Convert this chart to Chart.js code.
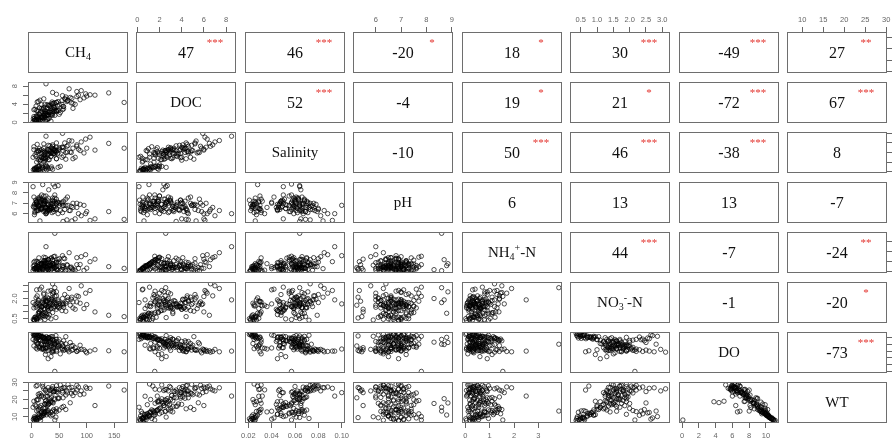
<!DOCTYPE html>
<html>
<head>
<meta charset="utf-8">
<script src="https://cdn.jsdelivr.net/npm/chart.js@4.4.0/dist/chart.umd.min.js"></script>
<style>
body{margin:0;background:#fff;width:894px;height:439px;overflow:hidden;position:relative;font-family:"Liberation Serif","Times New Roman",serif}
canvas{position:absolute}
.box{position:absolute;width:100px;height:41px;display:flex;align-items:center;justify-content:center;color:#111}
.diag{font-size:15px}
.num{font-size:16px}
.star{position:absolute;color:#e3332e;font-size:11px;line-height:1;transform:translateX(-50%)}
sub{font-size:10px;vertical-align:-3px;line-height:0}
sup{font-size:10px;vertical-align:6px;line-height:0}
</style>
</head>
<body>
<script>
// observations (one value per sample, same order in every array)
const ch4 = [12,8,35,22,5,18,44,25,14,3, 20,9,28,16,38,6,24,13,50,7,
  32,4,22,35,15,28,40,18,12,45, 30,9,25,38,8,38,45,12,30,22,
  55,33,18,62,27,4,36,22,70,17, 10,31,26,48,14,35,6,41,29,58,
  9,24,15,48,30,62,8,40,75,22, 52,12,33,85,14,45,28,56,95,38,
  42,20,65,100,25,47,10,88,36,58, 72,26,26,82,45,115,68,56,140,90,
  38,168,42,42,20,39,48,2.5,15,57, 64,73,106,79,30,35,25,18,22,
  6,10,17,23,9,30,13,27,40,55, 33,20,66,45,18,82,37,24,35,16,
  50,28,12,42,60,98,75,5,22,31];
const doc = [0.4,0.6,0.3,0.9,0.5,1.2,2.6,0.35,1.0,0.8, 0.45,1.4,3.2,0.25,1.6,0.55,1.1,0.75,1.8,0.2,
  0.9,1.3,1.5,2.2,0.5,1.8,2.8,1.1,0.7,2.5, 1.6,0.45,2.0,3.0,3.6,1.9,4.4,2.5,0.9,3.3,
  4.8,2.2,3.9,5.1,1.6,2.8,4.1,3.0,5.5,2.4, 1.2,3.7,2.0,4.6,3.2,1.8,2.9,4.3,0.7,3.5,
  2.6,4.0,4.9,2.6,3.8,5.6,1.4,4.2,3.1,5.2, 2.2,4.6,3.5,6.0,1.8,4.4,3.9,2.8,5.4,4.1,
  3.3,1.1,4.8,5.8,2.4,3.6,4.5,5.0,1.6,3.0, 4.3,2.0,8.5,6.8,6.2,6.0,7.4,5.9,6.5,7.0,
  6.6,4.4,2.56,1.57,1.05,2.4,2.7,0.15,0.6,3.5, 4.6,5.3,6.1,4.0,2.2,2.6,1.9,1.2,1.5,
  0.5,0.8,1.1,1.5,0.3,1.7,1.9,0.65,3.4,4.0, 3.8,2.9,4.9,2.5,3.1,5.7,4.5,2.7,3.2,2.1,
  3.9,2.4,1.3,3.0,5.2,6.3,4.2,0.9,2.0,2.3];
const sal = [0.024,0.026,0.052,0.063,0.025,0.030,0.061,0.027,0.068,0.024, 0.048,0.029,0.066,0.022,0.059,0.025,0.057,0.023,0.070,0.021,
  0.045,0.072,0.048,0.058,0.042,0.061,0.066,0.050,0.045,0.063, 0.055,0.040,0.059,0.068,0.052,0.025,0.047,0.064,0.026,0.069,
  0.050,0.062,0.058,0.046,0.031,0.066,0.070,0.048,0.061,0.051, 0.024,0.057,0.030,0.059,0.049,0.027,0.055,0.068,0.029,0.053,
  0.060,0.044,0.064,0.029,0.075,0.060,0.028,0.066,0.047,0.078, 0.031,0.062,0.074,0.067,0.032,0.080,0.049,0.071,0.059,0.076,
  0.065,0.025,0.061,0.069,0.046,0.057,0.077,0.064,0.030,0.070, 0.060,0.034,0.094,0.076,0.071,0.065,0.085,0.100,0.079,0.082,
  0.073,0.069,0.064,0.057,0.028,0.057,0.064,0.050,0.026,0.064, 0.073,0.084,0.092,0.050,0.045,0.052,0.048,0.036,0.040,
  0.023,0.064,0.026,0.060,0.022,0.066,0.031,0.024,0.058,0.071, 0.064,0.060,0.075,0.047,0.066,0.073,0.062,0.050,0.059,0.045,
  0.067,0.056,0.030,0.063,0.080,0.088,0.069,0.027,0.055,0.065];
const ph = [6.8,7.1,6.5,7.3,6.9,6.4,7.0,6.2,7.4,6.7, 6.6,7.2,6.3,6.9,7.5,6.1,7.0,6.5,6.8,7.3,
  6.4,6.6,7.2,6.9,7.6,6.6,7.0,7.8,6.3,7.4, 6.8,7.1,6.5,7.3,6.9,7.2,6.4,6.7,7.5,6.2,
  7.0,6.5,7.3,6.8,6.1,7.6,6.6,7.1,6.3,7.4, 6.9,6.4,7.7,6.0,6.7,7.0,6.2,7.2,6.5,6.8,
  7.1,6.6,6.8,7.1,6.4,7.4,6.6,6.2,7.0,6.9, 6.3,7.5,6.7,6.0,7.2,6.5,7.3,6.1,6.8,7.0,
  6.4,6.9,7.6,6.2,6.6,7.1,6.3,6.9,6.5,7.2, 6.7,6.0,6.0,6.6,7.0,5.5,6.3,6.8,6.2,5.8,
  6.4,5.45,8.6,7.8,8.8,8.85,8.7,8.6,5.3,5.25, 5.4,5.3,5.35,5.5,6.9,6.5,7.2,6.6,7.0,
  6.7,7.0,6.5,7.2,6.3,6.9,7.4,6.6,6.6,7.1, 6.3,7.3,6.8,6.9,6.5,7.0,6.1,7.2,6.7,6.4,
  7.0,6.2,6.8,7.5,6.4,6.0,6.6,5.9,7.7,8.3];
const nh4 = [0.25,0.38,0.15,0.62,0.30,0.85,0.47,0.12,0.72,0.55, 0.28,1.02,0.40,0.05,1.15,0.35,0.78,0.50,1.30,0.02,
  0.60,0.95,0.9,1.3,0.4,1.1,1.5,0.7,0.5,0.2, 1.2,0.3,1.4,0.8,0.45,0.60,0.30,0.85,0.20,1.10,
  0.55,0.38,0.72,0.15,0.95,0.28,1.40,0.65,0.42,0.80, 0.33,1.20,0.50,0.90,0.25,0.70,1.05,0.35,0.60,1.35,
  0.18,0.55,0.30,0.15,0.55,0.08,0.40,0.65,0.22,0.85, 0.10,0.48,0.70,0.33,0.05,0.95,0.25,0.58,0.12,0.78,
  0.42,0.20,0.62,0.35,0.88,0.18,0.50,0.72,0.28,0.60, 0.45,0.15,2.5,1.4,0.9,1.25,1.9,1.6,0.5,1.5,
  1.2,0.33,3.84,1.54,0.6,0.8,1.2,0.1,0.2,0.4, 0.7,0.3,1.0,0.15,0.9,0.6,1.1,0.8,0.5,
  0.32,0.56,0.80,1.08,0.18,1.22,1.38,0.42,0.48,0.22, 0.65,0.35,0.15,0.55,0.42,0.70,0.28,0.85,0.62,0.40,
  1.0,0.30,0.95,0.75,1.3,1.7,0.05,0.64,1.45,0.2];
const no3 = [0.55,0.62,0.48,0.71,0.40,0.82,0.58,0.66,0.90,0.45, 0.75,0.52,0.88,0.36,0.95,0.60,0.43,0.70,1.30,0.50,
  0.80,0.38,2.3,2.6,2.7,2.1,2.45,2.85,1.9,2.2, 2.55,2.65,2.0,2.35,1.35,1.55,1.20,1.70,1.45,1.85,
  1.10,1.60,1.40,1.05,1.75,1.30,1.95,1.25,1.50,1.15, 1.65,1.40,1.80,1.35,1.00,1.90,1.55,1.70,1.25,1.60,
  1.45,1.20,1.55,1.80,1.40,1.65,2.05,1.30,1.75,1.95, 1.50,1.85,1.60,2.15,1.45,1.70,1.35,2.00,1.25,1.90,
  1.60,1.45,2.10,1.55,1.80,1.40,2.20,1.65,1.75,1.35, 1.95,1.50,1.9,2.2,2.5,1.0,2.75,1.6,0.75,2.95,
  3.1,0.65,2.81,2.16,0.9,2.5,1.9,1.7,0.55,1.5, 1.8,2.1,2.6,1.2,1.1,1.3,0.95,1.4,1.6,
  0.6,0.5,0.7,0.85,0.45,0.6,1.0,0.78,1.8,1.6, 1.45,1.7,1.9,1.55,1.35,1.75,2.05,1.5,1.25,1.1,
  1.65,1.85,0.9,1.4,2.3,2.4,1.3,0.4,2.4,2.0];
const dox = [10.6,10.8,10.2,9.9,11.0,10.1,10.5,9.6,10.3,10.9, 10.0,9.7,9.5,11.1,10.2,10.7,9.8,10.4,9.4,10.8,
  9.9,10.6,10.1,9.6,10.5,9.2,9.0,10.3,10.0,9.4, 9.8,10.7,9.1,9.3,9.0,9.4,8.6,8.1,9.9,7.7,
  8.2,8.9,7.9,10.2,8.6,7.5,7.6,9.9,8.5,8.1, 8.2,9.6,8.0,8.8,9.4,7.4,8.9,9.0,7.7,9.0,
  8.6,8.8,7.2,7.4,6.2,8.1,6.9,6.0,7.6,6.4, 5.2,7.3,8.0,6.3,6.9,5.9,7.0,7.5,6.4,6.1,
  7.8,6.7,7.1,5.5,6.9,7.2,6.6,7.7,5.8,6.2, 7.5,6.8,6.0,5.9,6.3,6.4,5.8,6.6,6.1,6.5,
  5.7,5.8,8.0,0.1,10.0,8.5,7.9,9.4,10.4,7.5, 6.6,6.2,6.0,7.0,3.8,4.4,5.0,6.6,6.9,
  10.7,10.4,10.1,9.6,10.9,9.9,9.3,10.2,7.1,6.7, 7.3,6.9,6.3,7.5,7.8,6.0,6.6,8.9,8.2,9.2,
  7.6,8.7,9.9,8.3,6.4,5.9,6.5,10.3,9.5,8.6];
const wt = [9.1,8.2,10.5,11.8,7.6,12.4,9.8,13.1,10.9,8.4, 12.0,13.4,12.8,7.9,11.2,9.4,12.6,10.2,13.9,8.8,
  11.5,9.0,10.8,12.5,9.3,13.6,14.2,10.1,11.4,13.0, 12.2,8.6,14.8,13.3,16.2,18.5,14.6,19.8,17.0,21.2,
  15.4,20.4,21.8,14.2,17.8,19.0,21.5,15.0,18.1,16.6, 20.0,17.4,19.4,21.0,15.8,18.8,16.9,20.7,21.9,16.0,
  19.6,17.2,23.5,25.8,26.9,22.6,27.8,24.4,22.3,26.2, 28.5,23.0,25.5,27.2,22.0,28.0,24.0,25.0,23.2,27.5,
  24.8,29.0,23.8,26.5,25.2,24.2,28.2,22.8,26.0,27.0, 23.6,25.6,22.0,25.5,24.6,16.5,26.8,24.0,27.8,25.0,
  26.2,25.5,13.3,8.1,11.0,18.0,20.5,15.5,9.5,21.0, 25.0,27.0,26.5,24.0,18.7,18.2,19.0,12.8,13.2,
  8.9,9.6,10.6,12.3,8.0,13.5,14.4,11.1,24.6,26.4, 23.1,27.6,28.8,25.9,22.4,28.3,24.9,17.5,19.2,15.2,
  20.8,16.4,14.0,19.9,26.7,27.3,25.3,10.0,11.7,17.7];

const varData = [ch4, doc, sal, ph, nh4, no3, dox, wt];
const varNames = ['CH<sub>4</sub>', 'DOC', 'Salinity', 'pH', 'NH<sub>4</sub><sup>+</sup>-N', 'NO<sub>3</sub><sup>-</sup>-N', 'DO', 'WT'];
const axisMin = [-6.7, -0.12, 0.0172, 5.1, -0.136, 0.173, -0.36, 6.36];
const axisMax = [175, 8.9, 0.1028, 9.05, 3.97, 3.235, 11.55, 30.17];
const tickValues = [[0,50,100,150], [0,2,4,6,8], [0.02,0.04,0.06,0.08,0.1], [6,7,8,9],
  [0,1,2,3], [0.5,1,1.5,2,2.5,3], [0,2,4,6,8,10], [10,15,20,25,30]];
const tickLabels = [['0','50','100','150'], ['0','2','4','6','8'], ['0.02','0.04','0.06','0.08','0.10'], ['6','7','8','9'],
  ['0','1','2','3'], ['0.5','1.0','1.5','2.0','2.5','3.0'], ['0','2','4','6','8','10'], ['10','15','20','25','30']];
// vertical axes drop some labels
const sideLabels = [['0','50','100','150'], ['0','','4','','8'], ['0.02','','0.06','','0.10'], ['6','7','8','9'],
  ['0','1','2','3'], ['0.5','','','2.0','',''], ['0','','4','','8',''], ['10','','20','','30']];
const corr = [[47,46,-20,18,30,-49,27], [52,-4,19,21,-72,67], [-10,50,46,-38,8],
  [6,13,13,-7], [44,-7,-24], [-1,-20], [-73]];
const stars = [['***','***','*','*','***','***','**'], ['***','','*','*','***','***'], ['','***','***','***',''],
  ['','','',''], ['***','','**'], ['','*'], ['***']];

const colX = [28,136,245,353,462,570,679,787];
const rowY = [32,82,132,182,232,282,332,382];
const PW = 100, PH = 41, M = 30;
const tickFont = '"Liberation Sans", Arial, sans-serif';

const panelBox = {
  id: 'panelBox',
  afterDatasetsDraw(chart, args, opts) {
    const {ctx, chartArea: a} = chart;
    ctx.save();
    ctx.strokeStyle = '#6e6e6e';
    ctx.lineWidth = 1;
    ctx.strokeRect(a.left + 0.5, a.top + 0.5, a.right - a.left - 1, a.bottom - a.top - 1);
    if (opts.side) {
      const ys = chart.scales.y;
      ctx.fillStyle = '#666';
      ctx.font = '7.5px ' + tickFont;
      ctx.textAlign = 'center';
      ctx.textBaseline = 'middle';
      opts.values.forEach((v, k) => {
        if (!opts.labels[k]) return;
        const px = opts.side === 'left' ? a.left - 13 : a.right + 13;
        ctx.save();
        ctx.translate(px, ys.getPixelForValue(v));
        ctx.rotate(-Math.PI / 2);
        ctx.fillText(opts.labels[k], 0, 0);
        ctx.restore();
      });
    }
    ctx.restore();
  }
};

function axisOpts(v, show, pos, isX) {
  return {
    type: 'linear', min: axisMin[v], max: axisMax[v], position: pos, display: show,
    afterBuildTicks: s => { s.ticks = tickValues[v].map(t => ({value: t})); },
    afterFit: s => {
      if (!show) { s.width = 0; s.height = 0; return; }
      if (isX) s.height = M; else s.width = M;
    },
    grid: {display: true, drawOnChartArea: false, drawTicks: true, tickLength: 5, color: '#666', lineWidth: 1},
    border: {display: false},
    ticks: isX ? {
      display: true, autoSkip: false, maxRotation: 0, minRotation: 0, padding: 3, color: '#666',
      font: {size: 7.5, family: tickFont},
      callback: (val, k) => tickLabels[v][k]
    } : {display: false}
  };
}

for (let i = 0; i < 8; i++) {
  for (let j = 0; j < 8; j++) {
    const showTop = i === 0 && j % 2 === 1;
    const showBottom = i === 7 && j % 2 === 0;
    const showLeft = j === 0 && i % 2 === 1;
    const showRight = j === 7 && i % 2 === 0;
    const cv = document.createElement('canvas');
    cv.width = PW + 2 * M;
    cv.height = PH + 2 * M;
    cv.style.left = (colX[j] - M) + 'px';
    cv.style.top = (rowY[i] - M) + 'px';
    document.body.appendChild(cv);

    const pts = i > j ? varData[j].map((x, k) => ({x: x, y: varData[i][k]})) : [];

    new Chart(cv, {
      type: 'scatter',
      data: {datasets: [{
        data: pts, pointRadius: 2.2, pointHoverRadius: 2.2, pointBorderWidth: 1,
        pointBorderColor: 'rgba(0,0,0,0.68)', pointBackgroundColor: 'rgba(0,0,0,0)'
      }]},
      options: {
        responsive: false, animation: false, devicePixelRatio: 1, events: [],
        layout: {padding: {top: showTop ? 0 : M, bottom: showBottom ? 0 : M, left: showLeft ? 0 : M, right: showRight ? 0 : M}},
        scales: {
          x: axisOpts(j, showTop || showBottom, showTop ? 'top' : 'bottom', true),
          y: axisOpts(i, showLeft || showRight, showLeft ? 'left' : 'right', false)
        },
        plugins: {
          legend: {display: false}, tooltip: {enabled: false},
          panelBox: {side: showLeft ? 'left' : (showRight ? 'right' : null), values: tickValues[i], labels: sideLabels[i]}
        }
      },
      plugins: [panelBox]
    });

    if (i === j) {
      const d = document.createElement('div');
      d.className = 'box diag';
      d.style.left = colX[j] + 'px';
      d.style.top = rowY[i] + 'px';
      d.innerHTML = '<span>' + varNames[i] + '</span>';
      document.body.appendChild(d);
    } else if (i < j) {
      const d = document.createElement('div');
      d.className = 'box num';
      d.style.left = colX[j] + 'px';
      d.style.top = rowY[i] + 'px';
      d.textContent = corr[i][j - i - 1];
      document.body.appendChild(d);
      const st = stars[i][j - i - 1];
      if (st) {
        const s = document.createElement('div');
        s.className = 'star';
        s.style.left = (colX[j] + 79) + 'px';
        s.style.top = (rowY[i] + 5) + 'px';
        s.textContent = st;
        document.body.appendChild(s);
      }
    }
  }
}
</script>
</body>
</html>
